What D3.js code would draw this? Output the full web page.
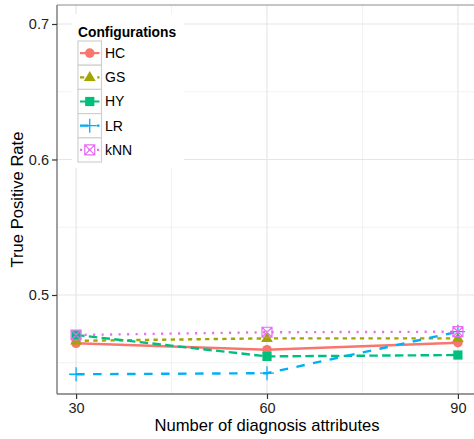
<!DOCTYPE html>
<html><head><meta charset="utf-8">
<script src="https://cdn.jsdelivr.net/npm/d3@7"></script>
<style>body{margin:0;background:#fff}svg{display:block;font-family:"Liberation Sans",Arial,sans-serif}</style>
</head><body><svg id="c" width="474" height="439"></svg>
<script>
const xValues = [30, 60, 90];
const seriesNames = ["HC", "GS", "HY", "LR", "kNN"];
const HC = [0.4644, 0.4596, 0.4648];
const GS = [0.4662, 0.4680, 0.4680];
const HY = [0.4705, 0.4547, 0.4557];
const LR = [0.4415, 0.4423, 0.4729];
const kNN = [0.4705, 0.4725, 0.4729];
const xTicks = [30, 60, 90];
const yTicks = [0.5, 0.6, 0.7];
const xMinor = [45, 75];
const yMinor = [0.45, 0.55, 0.65];
const colors = ["#F8766D", "#A3A500", "#00BF7D", "#00B0F6", "#E76BF3"];
const dashes = [null, "4.3,4.3", "8.5,4.3", "8.5,8.5", "2.1,6.4"];
const shapes = ["circle", "triangle", "square", "plus", "boxx"];
const seriesData = [HC, GS, HY, LR, kNN];

const svg = d3.select("#c");
const L = 57, R = 477, T = 5, B = 394;
const x = d3.scaleLinear().domain([27, 93]).range([L, R]);
const y = d3.scaleLinear().domain([0.42694, 0.71402]).range([B, T]);

svg.append("defs").append("clipPath").attr("id", "clip")
  .append("rect").attr("x", L).attr("y", T).attr("width", R - L).attr("height", B - T);

const panel = svg.append("g");
panel.append("rect").attr("x", L).attr("y", T).attr("width", R - L).attr("height", B - T).attr("fill", "#fff");
panel.selectAll(".gxm").data(xMinor).join("line").attr("x1", d => x(d)).attr("x2", d => x(d)).attr("y1", T).attr("y2", B).attr("stroke", "#f2f2f2").attr("stroke-width", 1);
panel.selectAll(".gym").data(yMinor).join("line").attr("y1", d => y(d)).attr("y2", d => y(d)).attr("x1", L).attr("x2", R).attr("stroke", "#f2f2f2").attr("stroke-width", 1);
panel.selectAll(".gx").data(xTicks).join("line").attr("x1", d => x(d)).attr("x2", d => x(d)).attr("y1", T).attr("y2", B).attr("stroke", "#e6e6e6").attr("stroke-width", 1.2);
panel.selectAll(".gy").data(yTicks).join("line").attr("y1", d => y(d)).attr("y2", d => y(d)).attr("x1", L).attr("x2", R).attr("stroke", "#e6e6e6").attr("stroke-width", 1.2);

const plot = svg.append("g").attr("clip-path", "url(#clip)");
const line = d3.line().x(d => x(d[0])).y(d => y(d[1]));
seriesData.forEach((vals, i) => {
  const pts = xValues.map((xv, j) => [xv, vals[j]]);
  plot.append("path").attr("d", line(pts)).attr("fill", "none")
    .attr("stroke", colors[i]).attr("stroke-width", 2.4)
    .attr("stroke-dasharray", dashes[i]);
});

function drawShape(g, shape, cx, cy, color, s) {
  s = s || 1;
  if (shape === "circle") {
    g.append("circle").attr("cx", cx).attr("cy", cy).attr("r", 4.8 * s).attr("fill", color);
  } else if (shape === "triangle") {
    const r = 6.2 * s;
    g.append("path").attr("d", `M${cx},${cy - r}L${cx + r * 0.95},${cy + r * 0.6}L${cx - r * 0.95},${cy + r * 0.6}Z`).attr("fill", color);
  } else if (shape === "square") {
    const h = 4.6 * s;
    g.append("rect").attr("x", cx - h).attr("y", cy - h).attr("width", 2 * h).attr("height", 2 * h).attr("fill", color);
  } else if (shape === "plus") {
    const h = 7 * s;
    g.append("path").attr("d", `M${cx - h},${cy}H${cx + h}M${cx},${cy - h}V${cy + h}`).attr("stroke", color).attr("stroke-width", 1.3).attr("fill", "none");
  } else if (shape === "boxx") {
    const h = 5 * s;
    g.append("path").attr("d", `M${cx - h},${cy - h}H${cx + h}V${cy + h}H${cx - h}ZM${cx - h},${cy - h}L${cx + h},${cy + h}M${cx + h},${cy - h}L${cx - h},${cy + h}`).attr("stroke", color).attr("stroke-width", 1.2).attr("fill", "none");
  }
}
seriesData.forEach((vals, i) => {
  xValues.forEach((xv, j) => drawShape(plot, shapes[i], x(xv), y(vals[j]), colors[i]));
});

svg.append("line").attr("x1", L).attr("x2", R).attr("y1", T).attr("y2", T).attr("stroke", "#8c8c8c").attr("stroke-width", 1.2);
svg.append("line").attr("x1", L).attr("x2", L).attr("y1", T).attr("y2", B).attr("stroke", "#777").attr("stroke-width", 1.4);
svg.append("line").attr("x1", L).attr("x2", R).attr("y1", B).attr("y2", B).attr("stroke", "#777").attr("stroke-width", 1.4);

const xAxis = d3.axisBottom(x).tickValues(xTicks).tickSize(5).tickPadding(4).tickFormat(d3.format("d"));
const gx = svg.append("g").attr("transform", `translate(0,${B})`).call(xAxis);
gx.select(".domain").remove();
gx.selectAll("line").attr("stroke", "#333").attr("stroke-width", 1.2);
gx.selectAll("text").attr("fill", "#222").attr("font-size", 14.5).attr("font-family", "Liberation Sans, Arial, sans-serif");

const yAxis = d3.axisLeft(y).tickValues(yTicks).tickSize(5).tickPadding(3).tickFormat(d3.format(".1f"));
const gy = svg.append("g").attr("transform", `translate(${L},0)`).call(yAxis);
gy.select(".domain").remove();
gy.selectAll("line").attr("stroke", "#333").attr("stroke-width", 1.2);
gy.selectAll("text").attr("fill", "#222").attr("font-size", 14.5).attr("font-family", "Liberation Sans, Arial, sans-serif");

svg.append("text").attr("x", 267).attr("y", 431).attr("text-anchor", "middle")
  .attr("font-size", 16.6).attr("fill", "#000").text("Number of diagnosis attributes");
svg.append("text").attr("transform", `translate(23,${(T + B) / 2}) rotate(-90)`).attr("text-anchor", "middle")
  .attr("font-size", 16.6).attr("fill", "#000").text("True Positive Rate");

const lg = svg.append("g");
lg.append("rect").attr("x", 72).attr("y", 14).attr("width", 112).attr("height", 154).attr("fill", "#fff");
lg.append("text").attr("x", 78).attr("y", 37).attr("font-size", 13.8).attr("font-weight", "bold").attr("fill", "#000").text("Configurations");
seriesNames.forEach((name, i) => {
  const ky = 41 + i * 24.2;
  const g = lg.append("g");
  g.append("rect").attr("x", 78).attr("y", ky).attr("width", 23.5).attr("height", 24.2).attr("fill", "#fff").attr("stroke", "#d0d0d0").attr("stroke-width", 1.2);
  g.append("line").attr("x1", 80).attr("x2", 99.5).attr("y1", ky + 12.1).attr("y2", ky + 12.1)
    .attr("stroke", colors[i]).attr("stroke-width", 2.2).attr("stroke-dasharray", dashes[i]);
  drawShape(g, shapes[i], 89.75, ky + 12.1, colors[i]);
  g.append("text").attr("x", 105).attr("y", ky + 17).attr("font-size", 14).attr("fill", "#000").text(name);
});
</script></body></html>
